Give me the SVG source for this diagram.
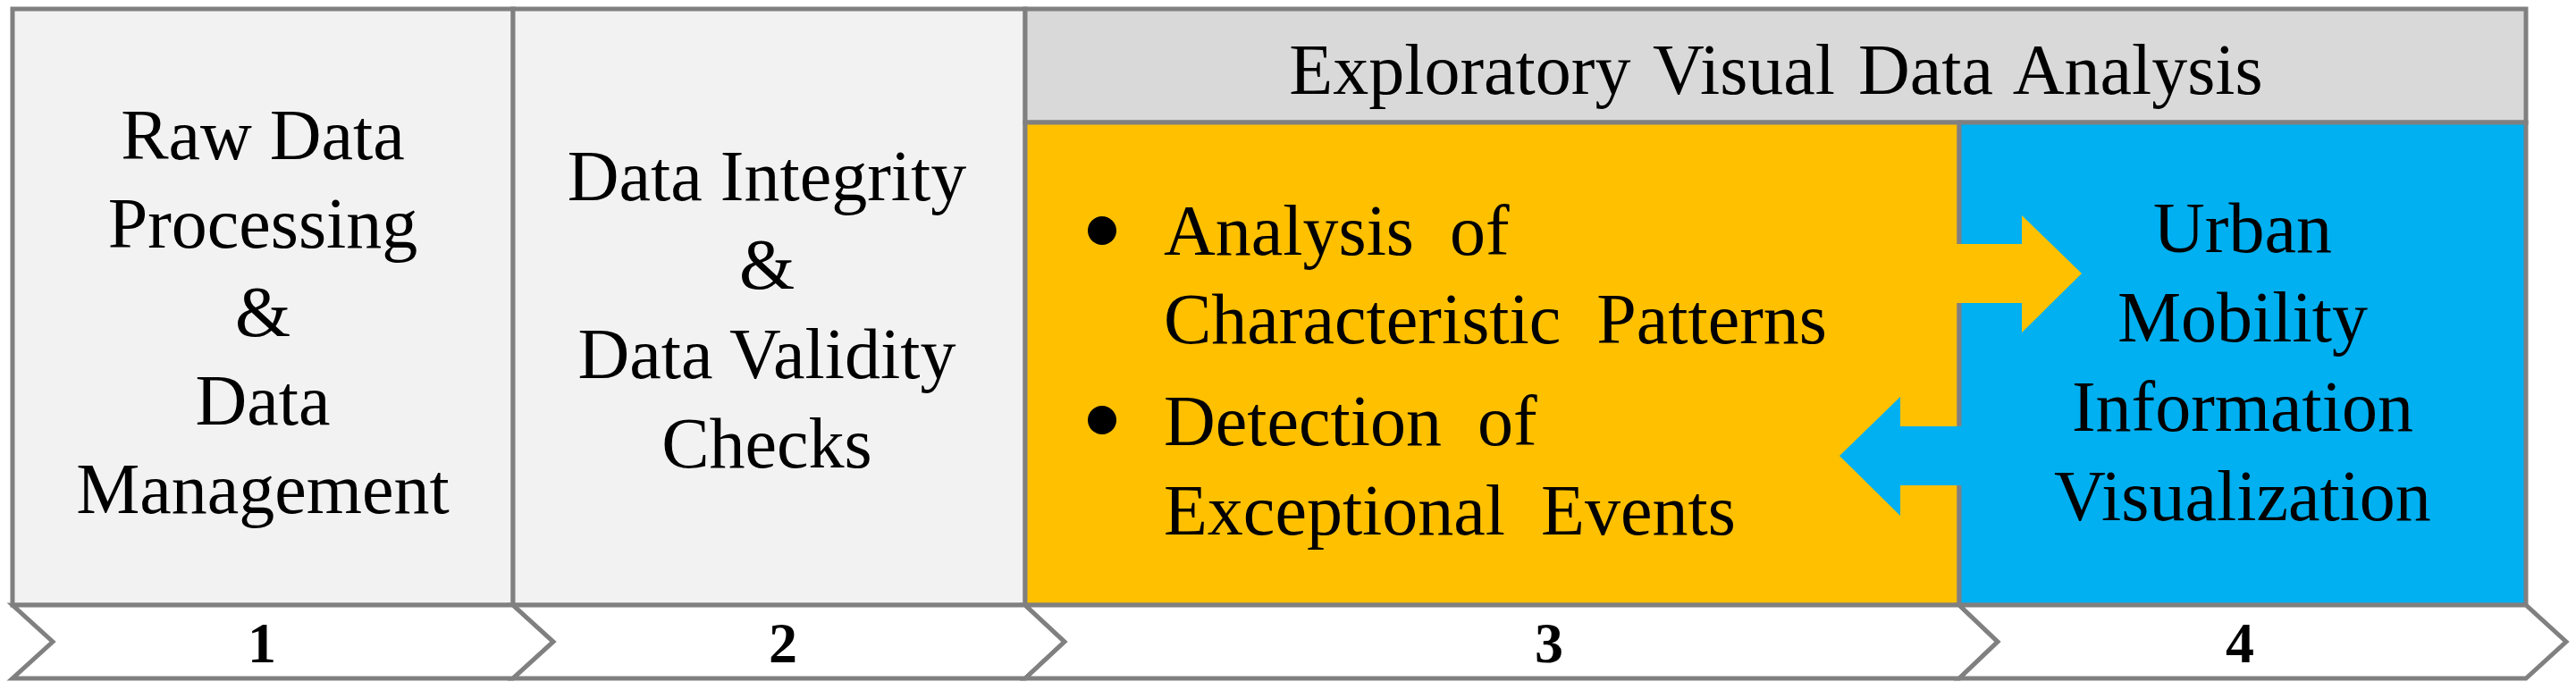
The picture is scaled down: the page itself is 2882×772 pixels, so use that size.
<svg xmlns="http://www.w3.org/2000/svg" width="2882" height="772" viewBox="0 0 2882 772">
<style>
.box{stroke:#808080;stroke-width:5;stroke-linejoin:miter}
.grey{fill:#f2f2f2}
.hdr{fill:#d9d9d9}
.org{fill:#ffc000}
.blu{fill:#00b0f0}
.chev{fill:#ffffff;stroke:#808080;stroke-width:5;stroke-linejoin:miter}
.t{font-family:"Liberation Serif","Times New Roman",serif;font-size:80px;fill:#000;text-anchor:middle}
.tl{font-family:"Liberation Serif","Times New Roman",serif;font-size:80px;fill:#000;word-spacing:20px}
.num{font-family:"Liberation Serif","Times New Roman",serif;font-size:64px;font-weight:bold;fill:#000;text-anchor:middle}
</style>
<rect width="2882" height="772" fill="#ffffff"/>
<g id="panel1">
<rect class="box grey" x="14" y="10" width="560" height="667"/>
<text class="t" x="294" y="178">Raw Data</text>
<text class="t" x="294" y="277">Processing</text>
<text class="t" x="294" y="376">&amp;</text>
<text class="t" x="294" y="475">Data</text>
<text class="t" x="294" y="574">Management</text>
</g>
<g id="panel2">
<rect class="box grey" x="574" y="10" width="573" height="667"/>
<text class="t" x="858" y="224">Data Integrity</text>
<text class="t" x="858" y="323">&amp;</text>
<text class="t" x="858" y="423">Data Validity</text>
<text class="t" x="858" y="523">Checks</text>
</g>
<g id="header">
<rect class="box hdr" x="1147" y="10" width="1679" height="127"/>
<text class="t" x="1987" y="105" style="word-spacing:6px">Exploratory Visual Data Analysis</text>
</g>
<g id="panel3">
<rect class="box org" x="1147" y="137" width="1045" height="540"/>
<circle cx="1233" cy="258" r="16" fill="#000"/>
<text class="tl" x="1302" y="285">Analysis of</text>
<text class="tl" x="1302" y="384">Characteristic Patterns</text>
<circle cx="1233" cy="470" r="16" fill="#000"/>
<text class="tl" x="1302" y="498">Detection of</text>
<text class="tl" x="1302" y="598">Exceptional Events</text>
</g>
<g id="panel4">
<rect class="box blu" x="2192" y="137" width="634" height="540"/>
<text class="t" x="2509" y="282">Urban</text>
<text class="t" x="2509" y="382">Mobility</text>
<text class="t" x="2509" y="482">Information</text>
<text class="t" x="2509" y="582">Visualization</text>
</g>
<g id="connectors">
<polygon class="org" points="2189,273 2262,273 2262,241 2329,306 2262,372 2262,339 2189,339"/>
<polygon class="blu" points="2196,477 2126,477 2126,444 2058,510 2126,577 2126,543 2196,543"/>
</g>
<g id="step1">
<polygon class="chev" points="14,677 574,677 619,718 574,759 14,759 59,718"/>
<text class="num" x="293" y="741">1</text>
</g>
<g id="step2">
<polygon class="chev" points="574,677 1147,677 1191,718 1147,759 574,759 619,718"/>
<text class="num" x="876" y="741">2</text>
</g>
<g id="step3">
<polygon class="chev" points="1147,677 2192,677 2235,718 2192,759 1147,759 1191,718"/>
<text class="num" x="1733" y="741">3</text>
</g>
<g id="step4">
<polygon class="chev" points="2192,677 2826,677 2871,718 2826,759 2192,759 2235,718"/>
<text class="num" x="2506" y="741">4</text>
</g>
</svg>
